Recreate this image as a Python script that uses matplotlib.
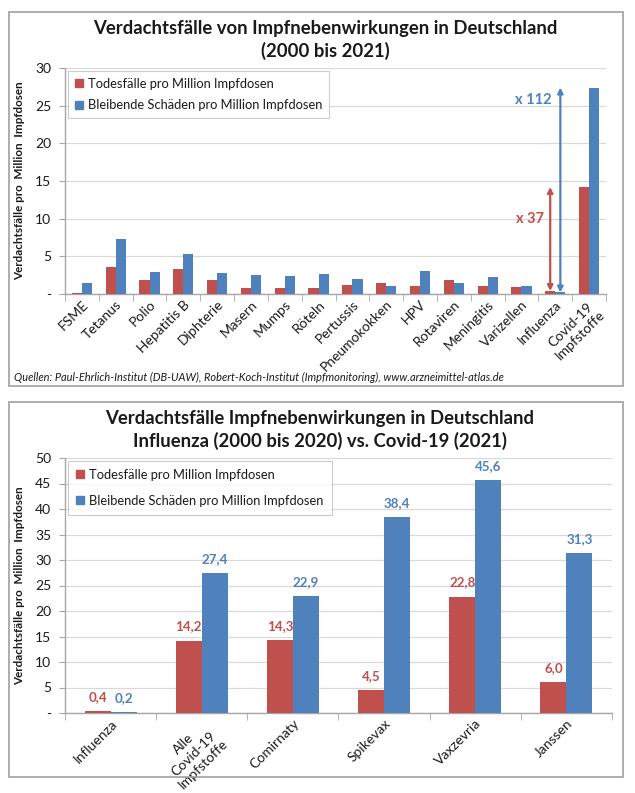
import matplotlib
matplotlib.use("Agg")
import matplotlib.pyplot as plt
from matplotlib.patches import Rectangle
from matplotlib.lines import Line2D
from matplotlib.ticker import FuncFormatter, FixedLocator
import numpy as np

plt.rcParams['font.family'] = ['Lato', 'DejaVu Sans']

# ---------------- data ----------------
top_categories = ["FSME", "Tetanus", "Polio", "Hepatitis B", "Diphterie", "Masern", "Mumps",
                  "Röteln", "Pertussis", "Pneumokokken", "HPV", "Rotaviren", "Meningitis",
                  "Varizellen", "Influenza", "Covid-19\nImpfstoffe"]
top_deaths = [0.18, 3.6, 1.8, 3.35, 1.9, 0.75, 0.75, 0.75, 1.25, 1.5, 1.0, 1.9, 1.0, 0.93, 0.4, 14.2]
top_damage = [1.5, 7.25, 2.95, 5.35, 2.75, 2.5, 2.4, 2.6, 2.0, 1.0, 3.05, 1.4, 2.3, 1.0, 0.2, 27.4]

bot_categories = ["Influenza", "Alle\nCovid-19\nImpfstoffe", "Comirnaty", "Spikevax", "Vaxzevria", "Janssen"]
bot_deaths = [0.4, 14.2, 14.3, 4.5, 22.8, 6.0]
bot_damage = [0.2, 27.4, 22.9, 38.4, 45.6, 31.3]

series_names = ["Todesfälle pro Million Impfdosen", "Bleibende Schäden pro Million Impfdosen"]
top_title = "Verdachtsfälle von Impfnebenwirkungen in Deutschland\n(2000 bis 2021)"
bot_title = "Verdachtsfälle Impfnebenwirkungen in Deutschland\nInfluenza (2000 bis 2020) vs. Covid-19 (2021)"
ylabel = "Verdachtsfälle pro  Million  Impfdosen"
source = "Quellen: Paul-Ehrlich-Institut (DB-UAW), Robert-Koch-Institut (Impfmonitoring), www.arzneimittel-atlas.de"
factor_deaths = "x 37"
factor_damage = "x 112"

RED = "#C0504D"
BLUE = "#4F81BD"
GRID = "#D9D9D9"
AXC = "#A6A6A6"
TXT = "#1a1a1a"

W, H = 635, 793
fig = plt.figure(figsize=(W / 100, H / 100), dpi=100)
fig.patch.set_facecolor("white")


def fx(px):
    return px / W


def fy(py):
    return 1 - py / H


# panel borders
for (x0, y0, x1, y1) in [(9, 12, 623, 386), (9, 402, 623, 777)]:
    fig.patches.append(Rectangle((fx(x0), fy(y1)), fx(x1) - fx(x0), fy(y0) - fy(y1),
                                 transform=fig.transFigure, fill=False,
                                 edgecolor="#A0A0A0", linewidth=1.2))


def setup_axes(ax, cats, ymax, ystep, bw, d, b, lab_size):
    n = len(cats)
    x = np.arange(n)
    ax.bar(x - bw / 2, d, width=bw, color=RED, zorder=3, label=series_names[0])
    ax.bar(x + bw / 2, b, width=bw, color=BLUE, zorder=3, label=series_names[1])
    ax.set_xlim(-0.5, n - 0.5)
    ax.set_ylim(0, ymax)
    ax.set_yticks(np.arange(0, ymax + 0.01, ystep))
    ax.yaxis.set_major_formatter(FuncFormatter(lambda v, p: "-" if v == 0 else f"{v:.0f}"))
    ax.grid(axis="y", color=GRID, linewidth=0.9, zorder=0)
    ax.set_axisbelow(True)
    for s in ["top", "right"]:
        ax.spines[s].set_visible(False)
    for s in ["left", "bottom"]:
        ax.spines[s].set_color(AXC)
        ax.spines[s].set_linewidth(1.0)
    ax.xaxis.set_major_locator(FixedLocator(x))
    ax.xaxis.set_minor_locator(FixedLocator(np.arange(-0.5, n, 1.0)))
    ax.tick_params(axis="x", which="major", length=0, pad=3)
    ax.tick_params(axis="x", which="minor", length=5, color=AXC, direction="out")
    ax.tick_params(axis="y", length=4, color=AXC, direction="out", labelsize=10,
                   labelcolor=TXT, pad=6)
    ax.set_xticklabels(cats, rotation=45, ha="right", rotation_mode="anchor",
                       fontsize=lab_size, color=TXT, multialignment="center")
    ax.set_ylabel(ylabel, fontsize=8.4, fontweight="bold", color=TXT, labelpad=7)
    handles = [Line2D([], [], marker="s", linestyle="none", markersize=6, color=RED),
               Line2D([], [], marker="s", linestyle="none", markersize=6, color=BLUE)]
    return handles


# ---------------- top chart ----------------
ax1 = fig.add_axes([fx(65), fy(294), fx(606) - fx(65), fy(68) - fy(294)])
h = setup_axes(ax1, top_categories, 30, 5, 0.3, top_deaths, top_damage, 10)
leg = ax1.legend(h, series_names, loc="upper left", bbox_to_anchor=(0.0, 1.0),
                 borderaxespad=0.2, fontsize=9.3, frameon=True, fancybox=False,
                 handlelength=0.6, handletextpad=0.4, labelspacing=0.75,
                 borderpad=0.55, edgecolor="#BFBFBF")
leg.get_frame().set_linewidth(0.8)
for t in leg.get_texts():
    t.set_color(TXT)

# arrows from Influenza to Covid
i_inf = top_categories.index("Influenza")
i_cov = len(top_categories) - 1
bw = 0.3
ax1.annotate("", xy=(i_inf - bw / 2, top_deaths[i_cov]), xytext=(i_inf - bw / 2, top_deaths[i_inf]),
             arrowprops=dict(arrowstyle="<|-|>", color=RED, lw=1.6, mutation_scale=8,
                             shrinkA=0, shrinkB=0), zorder=5)
ax1.annotate("", xy=(i_inf + bw / 2, top_damage[i_cov]), xytext=(i_inf + bw / 2, top_damage[i_inf]),
             arrowprops=dict(arrowstyle="<|-|>", color=BLUE, lw=1.6, mutation_scale=8,
                             shrinkA=0, shrinkB=0), zorder=5)
ax1.text(i_inf - 0.75, 10.0, factor_deaths, color=RED, fontsize=10.5, fontweight="bold",
         ha="center", va="center")
ax1.text(i_inf - 0.65, 25.8, factor_damage, color=BLUE, fontsize=10.5, fontweight="bold",
         ha="center", va="center")

fig.text(fx(325), fy(40), top_title, ha="center", va="center", fontsize=13.3,
         fontweight="bold", color=TXT, linespacing=1.3)
fig.text(fx(14), fy(377), source, ha="left", va="center", fontsize=7.9, style="italic",
         color=TXT)

# ---------------- bottom chart ----------------
ax2 = fig.add_axes([fx(65), fy(713), fx(612) - fx(65), fy(458) - fy(713)])
h = setup_axes(ax2, bot_categories, 50, 5, 0.285, bot_deaths, bot_damage, 10)
leg2 = ax2.legend(h, series_names, loc="upper left", bbox_to_anchor=(0.0, 1.0),
                  borderaxespad=0.2, fontsize=9.3, frameon=True, fancybox=False,
                  handlelength=0.6, handletextpad=0.4, labelspacing=1.05,
                  borderpad=0.65, edgecolor="#BFBFBF")
leg2.get_frame().set_linewidth(0.8)
for t in leg2.get_texts():
    t.set_color(TXT)

xb = np.arange(len(bot_categories))
for xi, v in zip(xb, bot_deaths):
    ax2.annotate(f"{v:.1f}".replace(".", ","), (xi - 0.285 / 2, v), xytext=(0, 6),
                 textcoords="offset points", ha="center", va="bottom", fontsize=9.6,
                 fontweight="bold", color=RED)
for xi, v in zip(xb, bot_damage):
    ax2.annotate(f"{v:.1f}".replace(".", ","), (xi + 0.285 / 2, v), xytext=(0, 6),
                 textcoords="offset points", ha="center", va="bottom", fontsize=9.6,
                 fontweight="bold", color=BLUE)

fig.text(fx(320), fy(430), bot_title, ha="center", va="center", fontsize=13.3,
         fontweight="bold", color=TXT, linespacing=1.3)

fig.savefig("out.png", dpi=100, facecolor="white")
